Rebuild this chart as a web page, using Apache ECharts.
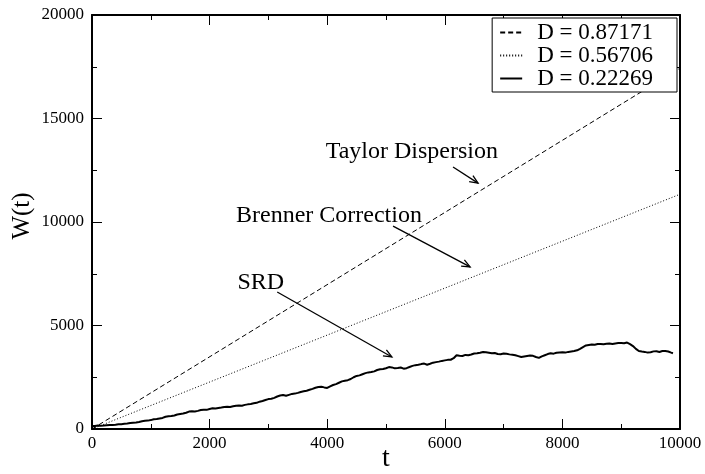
<!DOCTYPE html>
<html>
<head>
<meta charset="utf-8">
<script src="https://cdn.jsdelivr.net/npm/echarts@6/dist/echarts.min.js"></script>
<style>
  html, body { margin: 0; padding: 0; background: #fff; }
  #chart { width: 705px; height: 474px; }
</style>
</head>
<body>
<div id="chart"></div>
<script>
// Series names shown in the legend
const seriesNames = ['D = 0.87171', 'D = 0.56706', 'D = 0.22269'];

// Straight-line predictions: endpoints [t, W]
const taylorLine = [[0, 0], [10000, 17434]];
const brennerLine = [[0, 0], [10000, 11341]];

// Simulated (SRD) width W(t), sampled every 50 time units
const srdTimes = [
  0, 50, 100, 150, 200, 250, 300, 350, 400, 450,
  500, 550, 600, 650, 700, 750, 800, 850, 900, 950,
  1000, 1050, 1100, 1150, 1200, 1250, 1300, 1350, 1400, 1450,
  1500, 1550, 1600, 1650, 1700, 1750, 1800, 1850, 1900, 1950,
  2000, 2050, 2100, 2150, 2200, 2250, 2300, 2350, 2400, 2450,
  2500, 2550, 2600, 2650, 2700, 2750, 2800, 2850, 2900, 2950,
  3000, 3050, 3100, 3150, 3200, 3250, 3300, 3350, 3400, 3450,
  3500, 3550, 3600, 3650, 3700, 3750, 3800, 3850, 3900, 3950,
  4000, 4050, 4100, 4150, 4200, 4250, 4300, 4350, 4400, 4450,
  4500, 4550, 4600, 4650, 4700, 4750, 4800, 4850, 4900, 4950,
  5000, 5050, 5100, 5150, 5200, 5250, 5300, 5350, 5400, 5450,
  5500, 5550, 5600, 5650, 5700, 5750, 5800, 5850, 5900, 5950,
  6000, 6050, 6100, 6150, 6200, 6250, 6300, 6350, 6400, 6450,
  6500, 6550, 6600, 6650, 6700, 6750, 6800, 6850, 6900, 6950,
  7000, 7050, 7100, 7150, 7200, 7250, 7300, 7350, 7400, 7450,
  7500, 7550, 7600, 7650, 7700, 7750, 7800, 7850, 7900, 7950,
  8000, 8050, 8100, 8150, 8200, 8250, 8300, 8350, 8400, 8450,
  8500, 8550, 8600, 8650, 8700, 8750, 8800, 8850, 8900, 8950,
  9000, 9050, 9100, 9150, 9200, 9250, 9300, 9350, 9400, 9450,
  9500, 9550, 9600, 9650, 9700, 9750, 9800, 9850, 9880
];
const srdValues = [
  150, 140, 165, 160, 170, 185, 195, 190, 205, 225,
  235, 250, 265, 290, 305, 315, 335, 370, 395, 405,
  430, 470, 485, 510, 535, 590, 615, 625, 655, 700,
  725, 745, 785, 840, 855, 850, 875, 915, 935, 925,
  965, 1000, 995, 1015, 1035, 1060, 1075, 1065, 1095, 1125,
  1135, 1120, 1165, 1190, 1205, 1240, 1265, 1320, 1355, 1400,
  1445, 1460, 1505, 1570, 1615, 1640, 1605, 1650, 1695, 1710,
  1745, 1790, 1825, 1850, 1895, 1940, 1995, 2030, 2045, 2010,
  1985, 2060, 2125, 2170, 2235, 2300, 2335, 2360, 2415, 2500,
  2565, 2590, 2645, 2700, 2735, 2750, 2785, 2850, 2885, 2900,
  2935, 2990, 2975, 2930, 2945, 2970, 2915, 2940, 2995, 3050,
  3085, 3100, 3135, 3160, 3105, 3150, 3205, 3230, 3255, 3290,
  3315, 3340, 3345, 3420, 3565, 3540, 3525, 3580, 3565, 3600,
  3645, 3660, 3685, 3720, 3705, 3680, 3655, 3670, 3625, 3610,
  3645, 3630, 3605, 3590, 3565, 3520, 3475, 3500, 3525, 3550,
  3535, 3480, 3435, 3510, 3565, 3620, 3655, 3640, 3685, 3700,
  3705, 3690, 3725, 3745, 3765, 3800, 3875, 3960, 4035, 4060,
  4085, 4070, 4105, 4110, 4095, 4115, 4125, 4110, 4135, 4150,
  4155, 4140, 4175, 4100, 4005, 3870, 3765, 3740, 3725, 3690,
  3705, 3750, 3755, 3720, 3765, 3770, 3745, 3690, 3660
];

// Axis settings
const tMax = 10000, tStep = 2000;
const wMax = 20000, wStep = 5000;

// Text annotations with arrows, positioned in data space [t, W]
const notes = [
  { text: 'Taylor Dispersion',  at: [5440, 13380], from: [6140, 12660], to: [6565, 11880] },
  { text: 'Brenner Correction', at: [4030, 10290], from: [5120, 9800],  to: [6430, 7830] },
  { text: 'SRD',                at: [2870, 7050],  from: [3150, 6620],  to: [5100, 3480] }
];

const serif = '"Liberation Serif", "Times New Roman", serif';
const srdData = srdTimes.map((t, i) => [t, srdValues[i]]);

const chart = echarts.init(document.getElementById('chart'));

function frameAxis(pos, isX, showLabel) {
  return {
    type: 'value',
    position: pos,
    min: 0,
    max: isX ? tMax : wMax,
    interval: isX ? tStep : wStep,
    axisLine: { show: true, onZero: false, lineStyle: { color: '#000', width: 2 } },
    axisTick: { show: true, inside: true, length: 10, lineStyle: { color: '#000', width: 1 } },
    minorTick: { show: true, splitNumber: 2, length: 5, lineStyle: { color: '#000', width: 1 } },
    splitLine: { show: false },
    axisLabel: {
      show: showLabel,
      fontFamily: serif,
      fontSize: 17,
      color: '#000',
      margin: isX ? 6 : 8,
      formatter: v => String(v)
    }
  };
}

chart.setOption({
  animation: false,
  backgroundColor: '#fff',
  grid: { left: 92, right: 25, top: 15, bottom: 45, containLabel: false },
  xAxis: [frameAxis('bottom', true, true), frameAxis('top', true, false)],
  yAxis: [frameAxis('left', false, true), frameAxis('right', false, false)],
  legend: {
    orient: 'vertical',
    right: 28,
    top: 18,
    backgroundColor: '#fff',
    borderColor: '#000',
    borderWidth: 1,
    borderRadius: 0,
    padding: [3, 24, 2, 7],
    itemGap: 0,
    itemWidth: 22,
    itemHeight: 14,
    itemStyle: { opacity: 0 },
    textStyle: {
      fontFamily: serif,
      fontSize: 23,
      color: '#000',
      lineHeight: 22,
      padding: [0, 0, 0, 10]
    },
    data: seriesNames
  },
  series: [
    {
      name: seriesNames[0], type: 'line', data: taylorLine,
      symbol: 'none', silent: true,
      lineStyle: { color: '#000', width: 1, type: [5, 3] },
      itemStyle: { color: '#000' }
    },
    {
      name: seriesNames[1], type: 'line', data: brennerLine,
      symbol: 'none', silent: true,
      lineStyle: { color: '#000', width: 1, type: [1, 2] },
      itemStyle: { color: '#000' }
    },
    {
      name: seriesNames[2], type: 'line', data: srdData,
      symbol: 'none', silent: true,
      lineStyle: { color: '#000', width: 2, type: 'solid' },
      itemStyle: { color: '#000' }
    }
  ]
});

// Axis titles and arrowed annotations
const toPx = p => chart.convertToPixel({ gridIndex: 0 }, p);
const graphics = [
  {
    type: 'text',
    x: 22, y: 216,
    rotation: Math.PI / 2,
    style: { text: 'W(t)', font: '25px ' + serif, fill: '#000', textAlign: 'center', textVerticalAlign: 'middle' }
  },
  {
    type: 'text',
    x: 386, y: 459,
    style: { text: 't', font: '28px ' + serif, fill: '#000', textAlign: 'center', textVerticalAlign: 'middle' }
  }
];

notes.forEach(n => {
  const c = toPx(n.at), a = toPx(n.from), b = toPx(n.to);
  graphics.push({
    type: 'text', x: c[0], y: c[1],
    style: { text: n.text, font: '24px ' + serif, fill: '#000', textAlign: 'center', textVerticalAlign: 'middle' }
  });
  const ang = Math.atan2(b[1] - a[1], b[0] - a[0]);
  const hl = 9, spread = 0.4;
  const h1 = [b[0] - hl * Math.cos(ang - spread), b[1] - hl * Math.sin(ang - spread)];
  const h2 = [b[0] - hl * Math.cos(ang + spread), b[1] - hl * Math.sin(ang + spread)];
  graphics.push({
    type: 'line', shape: { x1: a[0], y1: a[1], x2: b[0], y2: b[1] },
    style: { stroke: '#000', lineWidth: 1.3 }
  });
  graphics.push({
    type: 'polyline', shape: { points: [h1, b, h2] },
    style: { stroke: '#000', lineWidth: 1.3, fill: null }
  });
});

chart.setOption({ graphic: graphics });
</script>
</body>
</html>
